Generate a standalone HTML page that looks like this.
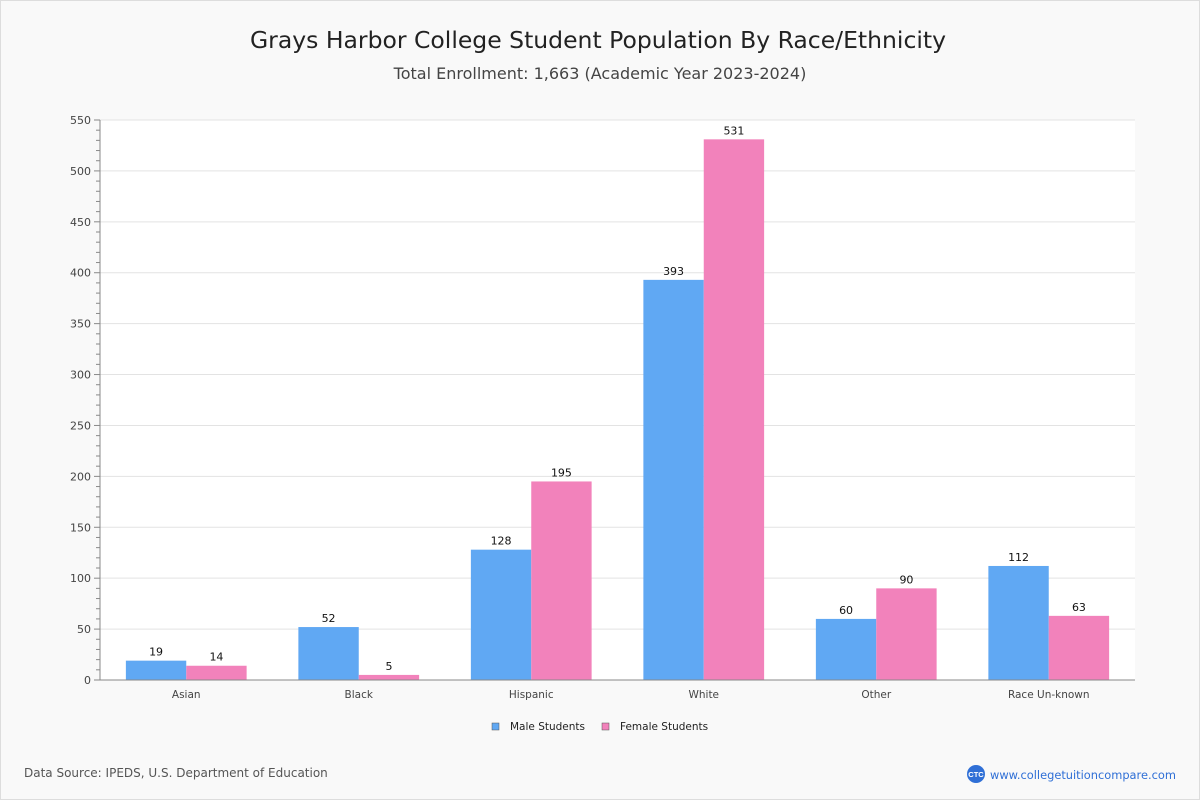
<!DOCTYPE html>
<html><head><meta charset="utf-8"><style>
html,body{margin:0;padding:0;}
body{width:1200px;height:800px;background:#f9f9f9;font-family:"DejaVu Sans","Liberation Sans",sans-serif;position:relative;overflow:hidden;}
#frame{position:absolute;left:0;top:0;width:1198px;height:798px;border:1px solid #ddd;}
</style></head><body>
<div id="frame"></div>
<svg id="chart" width="1200" height="800" style="position:absolute;left:0;top:0">
<text x="598" y="48" text-anchor="middle" font-size="23.5" fill="#222">Grays Harbor College Student Population By Race/Ethnicity</text>
<text x="600" y="79" text-anchor="middle" font-size="16" fill="#444">Total Enrollment: 1,663 (Academic Year 2023-2024)</text>
<rect x="100" y="120" width="1035" height="560" fill="#fff"/>
<g id="grid"></g><g id="bars"></g><g id="axes"></g>
<g>
<rect x="492" y="723" width="7" height="7" fill="#60a8f3" stroke="#555" stroke-width="0.5"/>
<text x="510" y="730" font-size="10.5" fill="#222">Male Students</text>
<rect x="602" y="723" width="7" height="7" fill="#f282bb" stroke="#555" stroke-width="0.5"/>
<text x="620" y="730" font-size="10.5" fill="#222">Female Students</text>
</g>
<text x="24" y="777" font-size="12" fill="#555">Data Source: IPEDS, U.S. Department of Education</text>
<circle cx="976" cy="774" r="9" fill="#2f6fd6"/>
<text x="976" y="777" text-anchor="middle" font-size="7.5" font-weight="bold" fill="#fff" font-family="Liberation Sans">CTC</text>
<text x="990" y="779" font-size="11.4" fill="#2f6fd6">www.collegetuitioncompare.com</text>
</svg>
<script>
const categories=["Asian","Black","Hispanic","White","Other","Race Un-known"];
const maleValues=[19,52,128,393,60,112];
const femaleValues=[14,5,195,531,90,63];
const yTicks=[0,50,100,150,200,250,300,350,400,450,500,550];
const NS="http://www.w3.org/2000/svg";
const X0=100,X1=1135,Y0=680,Y1=120,YMAX=550;
const y=v=>Y0-(v/YMAX)*(Y0-Y1);
const band=(X1-X0)/categories.length;
const xc=i=>X0+band*i+band/2;
function mk(tag,attrs,parent,txt){const e=document.createElementNS(NS,tag);for(const k in attrs)e.setAttribute(k,attrs[k]);if(txt!==undefined)e.textContent=txt;parent.appendChild(e);return e;}
const grid=document.getElementById('grid'),bars=document.getElementById('bars'),axes=document.getElementById('axes');
yTicks.forEach(t=>{
  if(t>0){const g=mk('line',{x1:X0,x2:X1,y1:y(t),y2:y(t),stroke:'#e3e3e3'},grid);
  
  }
  const l=mk('text',{x:91,y:y(t)+4,'text-anchor':'end','font-size':11,fill:'#444'},axes,String(t));
  
  
});
for(let v=0;v<=YMAX;v+=10){mk('line',{x1:v%50===0?94:96,x2:X0,y1:y(v),y2:y(v),stroke:'#888'},axes);}
const ya=mk('line',{x1:X0,x2:X0,y1:Y1,y2:Y0,stroke:'#888'},axes);


const xa=mk('line',{x1:X0,x2:X1,y1:Y0,y2:Y0,stroke:'#888'},axes);


const bw=band*0.35;
categories.forEach((c,i)=>{
  [[maleValues[i],'#60a8f3',-bw,'male'],[femaleValues[i],'#f282bb',0,'female']].forEach(([v,col,off,s])=>{
    const r=mk('rect',{x:xc(i)+off,y:y(v),width:bw,height:Y0-y(v),fill:col},bars);
    
    
    const t=mk('text',{x:xc(i)+off+bw/2,y:y(v)-5,'text-anchor':'middle','font-size':11,fill:'#111'},bars,String(v));
    
    
  });
  const lb=mk('text',{x:xc(i),y:698,'text-anchor':'middle','font-size':10.5,fill:'#444'},axes,c);
  
  
});
</script>
</body></html>
